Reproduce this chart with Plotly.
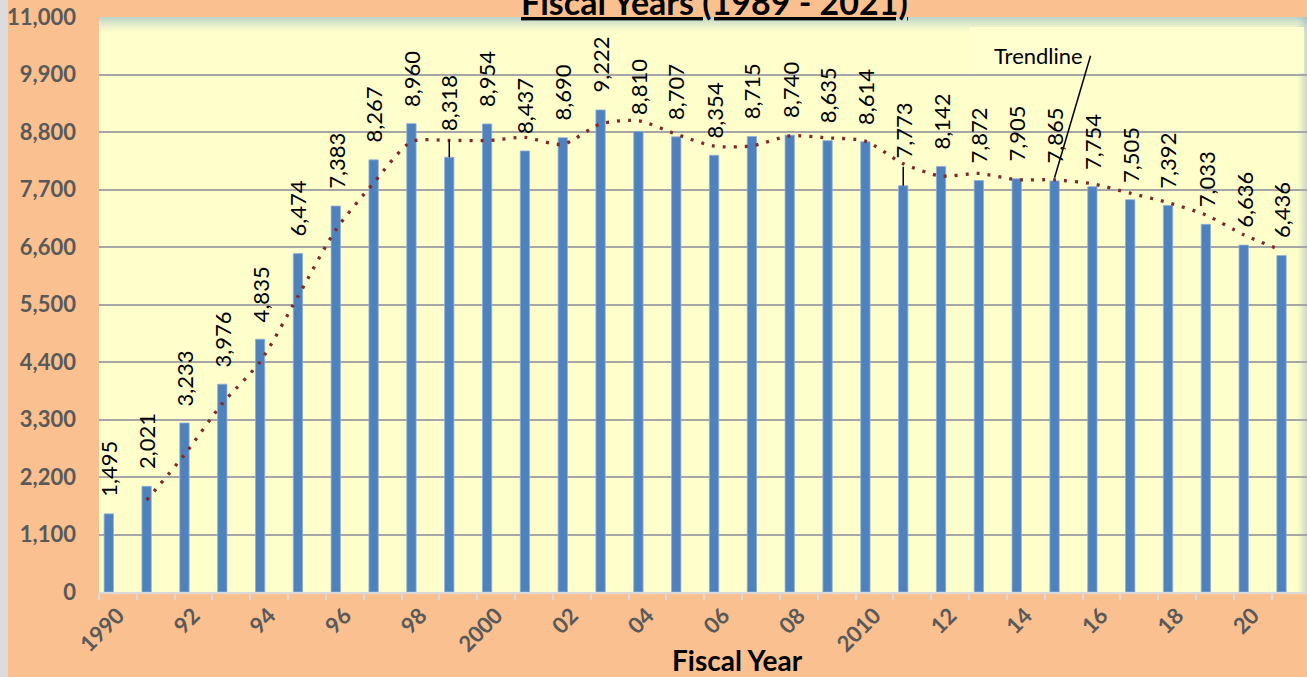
import plotly.graph_objects as go

# ---------------- data ----------------
years = list(range(1990, 2022))
values = [1495, 2021, 3233, 3976, 4835, 6474, 7383, 8267, 8960, 8318,
          8954, 8437, 8690, 9222, 8810, 8707, 8354, 8715, 8740, 8635,
          8614, 7773, 8142, 7872, 7905, 7865, 7754, 7505, 7392, 7033,
          6636, 6436]
# 2-period moving-average trendline
trend_years = list(range(1991, 2022))
trend_values = [1758, 2627, 3604.5, 4405.5, 5654.5, 6928.5, 7825, 8613.5, 8639, 8636,
                8695.5, 8563.5, 8956, 9016, 8758.5, 8530.5, 8534.5, 8727.5, 8687.5, 8624.5,
                8193.5, 7957.5, 8007, 7888.5, 7885, 7809.5, 7629.5, 7448.5, 7212.5, 6834.5,
                6536]
tick_years = [1990, 1992, 1994, 1996, 1998, 2000, 2002, 2004, 2006, 2008, 2010,
              2012, 2014, 2016, 2018, 2020]
tick_labels = ["1990", "92", "94", "96", "98", "2000", "02", "04", "06", "08", "2010",
               "12", "14", "16", "18", "20"]
y_ticks = [0, 1100, 2200, 3300, 4400, 5500, 6600, 7700, 8800, 9900, 11000]
title_text = "Fiscal Years (1989 - 2021)"
x_title = "Fiscal Year"
trend_label = "Trendline"
trend_label_year = 2015
leader_years = {1999: 17, 2011: 19}   # labels lifted with a leader line (px)

FONT = "Lato"
X0 = 1989.741
CAT_SHIFT = 0.241

fig = go.Figure()
fig.add_trace(go.Bar(
    x=years, y=values, width=0.246,
    marker=dict(color="#4F81BD", line=dict(color="#8EAEDB", width=0.8)),
    hoverinfo="x+y"))
fig.add_trace(go.Scatter(
    x=trend_years, y=trend_values, mode="lines",
    line=dict(color="#7E2A2A", width=3.3, dash="3px,8px", shape="spline", smoothing=0.7),
    hoverinfo="skip"))

annotations = []
shapes = []
for yr, v in zip(years, values):
    lift = leader_years.get(yr, 0)
    annotations.append(dict(
        x=yr, y=v, xref="x", yref="y", text=f"{v:,}", textangle=-90,
        showarrow=False, xanchor="center", yanchor="bottom", yshift=15 + lift * 0.55,
        font=dict(family=FONT, size=22, color="#000000")))
    if lift:
        shapes.append(dict(type="line", xref="x", yref="y", x0=yr, x1=yr,
                           ysizemode="pixel", yanchor=v, y0=0, y1=lift,
                           line=dict(color="#000000", width=1.5)))

# top shading of plot area
for i, op in enumerate([0.55, 0.45, 0.36, 0.28, 0.2, 0.13, 0.07, 0.03]):
    shapes.append(dict(type="rect", xref="paper", yref="paper", xsizemode="pixel", ysizemode="pixel",
                       xanchor=0, yanchor=1, x0=0, x1=1210, y0=-2 * i, y1=-2 * i - 2,
                       fillcolor=f"rgba(140,180,200,{op})", line=dict(width=0), layer="below"))
# right shading of plot area
for i, op in enumerate([0.05, 0.12, 0.22, 0.34, 0.45]):
    shapes.append(dict(type="rect", xref="paper", yref="paper", xsizemode="pixel", ysizemode="pixel",
                       xanchor=0, yanchor=1, x0=1198 + 2 * i, x1=1200 + 2 * i, y0=0, y1=-575,
                       fillcolor=f"rgba(140,180,200,{op})", line=dict(width=0), layer="below"))
# legend-like box behind "Trendline" (hides the shading)
shapes.append(dict(type="rect", xref="paper", yref="paper", xsizemode="pixel", ysizemode="pixel",
                   xanchor=0, yanchor=1, x0=871, x1=1205, y0=-10, y1=-56,
                   fillcolor="#FFFFD0", line=dict(width=0), layer="below"))
# trendline leader
ti = trend_years.index(trend_label_year)
shapes.append(dict(type="line", xref="x", yref="y", xsizemode="pixel", ysizemode="pixel",
                   xanchor=trend_label_year, yanchor=trend_values[ti],
                   x0=0, y0=2, x1=36, y1=124, line=dict(color="#000000", width=1.5)))
# left grey border strip
shapes.append(dict(type="rect", xref="paper", yref="paper", xsizemode="pixel", ysizemode="pixel",
                   xanchor=0, yanchor=0, x0=-99, x1=-91, y0=-85, y1=600,
                   fillcolor="#DCDCDC", line=dict(width=0)))

annotations.append(dict(
    x=(1038 - 99) / 1208, y=1, xref="paper", yref="paper", yshift=-38,
    text=trend_label, showarrow=False, xanchor="center", yanchor="middle",
    font=dict(family=FONT, size=22, color="#000000")))
annotations.append(dict(
    x=(714 - 99) / 1208, y=1, xref="paper", yref="paper", yshift=-7,
    text=f"<b><u>{title_text}</u></b>", showarrow=False, xanchor="center", yanchor="bottom",
    font=dict(family=FONT, size=34, color="#000000")))
annotations.append(dict(
    x=(737 - 99) / 1208, y=0, xref="paper", yref="paper", yshift=-68,
    text=f"<b>{x_title}</b>", showarrow=False, xanchor="center", yanchor="middle",
    font=dict(family=FONT, size=28, color="#000000")))

fig.update_layout(
    width=1307, height=677,
    margin=dict(l=99, r=0, t=17, b=85, pad=0),
    paper_bgcolor="#FAC08F", plot_bgcolor="#FFFFCC",
    showlegend=False,
    annotations=annotations, shapes=shapes,
    xaxis=dict(
        range=[X0, X0 + 1208 / 37.83],
        tickmode="array",
        tickvals=[y + CAT_SHIFT for y in tick_years], ticktext=tick_labels,
        tickangle=-45, ticks="", showgrid=False, zeroline=False,
        tickfont=dict(family=FONT, size=22, color="#595959", weight="bold"),
        showline=True, linecolor="#D9D9D9", linewidth=2,
        minor=dict(tick0=X0, dtick=1, ticks="outside", ticklen=6,
                   tickcolor="#D9D9D9", tickwidth=2, showgrid=False)),
    yaxis=dict(
        range=[0, 11000], tickmode="array", tickvals=y_ticks,
        tickformat=",", ticks="", ticklabelstandoff=22,
        showgrid=True, gridcolor="#A6A6A6", gridwidth=1.8, zeroline=False,
        tickfont=dict(family=FONT, size=22, color="#595959", weight="bold")),
)

fig.write_html("out.html", config={"displayModeBar": False},
               post_script="document.body.style.margin='0';document.body.style.overflow='hidden';")
